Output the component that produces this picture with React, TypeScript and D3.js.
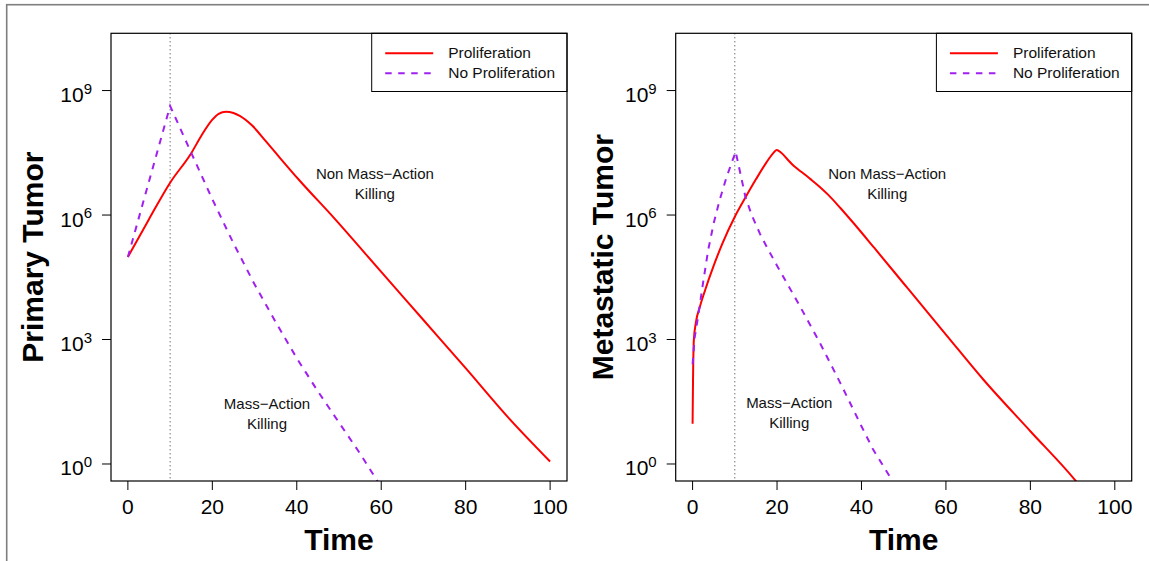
import React from 'react';
import * as d3 from 'd3';

// ---------- data ----------
const timeTicks = [0, 20, 40, 60, 80, 100];
const powerTicks = [0, 3, 6, 9];
const seriesNames = ['Proliferation', 'No Proliferation'];

// Primary tumor, with proliferation (log10 cells)
const primaryProlifTime = [0, 5, 10, 15, 17.5, 20, 21.5, 23.2, 25, 26.5, 29.5, 32.5, 36, 40.5, 48.9, 60, 70, 80, 90, 100];
const primaryProlifLog10 = [4.99, 5.9, 6.78, 7.49, 7.93, 8.3, 8.44, 8.49, 8.46, 8.39, 8.15, 7.8, 7.38, 6.85, 5.92, 4.63, 3.47, 2.31, 1.13, 0.06];

// Primary tumor, no proliferation
const primaryNoProlifTime = [0, 10, 15, 20, 25, 30, 35, 40, 45, 50, 55, 59.1, 60];
const primaryNoProlifLog10 = [4.99, 8.63, 7.5, 6.38, 5.32, 4.33, 3.42, 2.55, 1.75, 1.0, 0.25, -0.41, -0.55];

// Metastatic tumor, with proliferation
const metProlifTime = [0, 0.1, 0.3, 0.8, 1.7, 3, 5, 7, 10, 12.5, 15, 17.5, 19, 19.9, 21, 22.5, 24, 25.9, 28, 30, 32.2, 35, 38, 43.1, 50, 60, 68.9, 80, 90.6, 91];
const metProlifLog10 = [0.97, 2.0, 2.99, 3.42, 3.78, 4.2, 4.78, 5.3, 5.96, 6.42, 6.86, 7.27, 7.48, 7.57, 7.5, 7.34, 7.18, 7.03, 6.86, 6.69, 6.48, 6.17, 5.82, 5.2, 4.35, 3.12, 2.03, 0.79, -0.39, -0.44];

// Metastatic tumor, no proliferation
const metNoProlifTime = [0, 0.5, 1.3, 2.5, 3.7, 5, 6.4, 8, 10.2, 11, 12, 12.5, 14, 16, 18, 20, 25, 30, 35, 40, 42.8, 45, 47.2, 47.5];
const metNoProlifLog10 = [2.4, 3.05, 3.55, 4.38, 5.16, 5.8, 6.36, 6.9, 7.53, 7.15, 6.68, 6.44, 6.0, 5.54, 5.15, 4.78, 3.88, 2.95, 1.95, 0.91, 0.34, -0.02, -0.39, -0.44];

const treatmentTime = 10;

// ---------- layout ----------
const W = 1149;
const H = 561;
const FONT = "'Liberation Sans', Arial, Helvetica, sans-serif";
const RED = '#FF0000';
const PURPLE = '#A020F0';

type Ann = { lines: string[]; t: number; logy: number };
type PanelProps = {
  id: string;
  left: number;
  right: number;
  yLabel: string;
  yLabelX: number;
  prolif: { t: number[]; v: number[] };
  noProlif: { t: number[]; v: number[] };
  annotations: Ann[];
};

const top = 33.3;
const bottom = 481;

function Panel(p: PanelProps) {
  const x = d3.scaleLinear().domain([-4, 104]).range([p.left, p.right]);
  const y = d3.scaleLog().domain([Math.pow(10, -0.41), Math.pow(10, 10.38)]).range([bottom, top]);

  const toPts = (s: { t: number[]; v: number[] }) => s.t.map((t, i) => [t, Math.pow(10, s.v[i])] as [number, number]);
  const smooth = d3.line<[number, number]>().x(d => x(d[0])).y(d => y(d[1])).curve(d3.curveMonotoneX);
  const straight = d3.line<[number, number]>().x(d => x(d[0])).y(d => y(d[1])).curve(d3.curveLinear);

  const legLeft = p.left + 260.7;
  const legLines = [53.3, 73.3];

  return (
    <g>
      <defs>
        <clipPath id={`clip-${p.id}`}>
          <rect x={p.left} y={top} width={p.right - p.left} height={bottom - top} />
        </clipPath>
      </defs>
      <line x1={x(treatmentTime)} x2={x(treatmentTime)} y1={top} y2={bottom} stroke="#333" strokeWidth={1} strokeDasharray="1,3" />
      <g clipPath={`url(#clip-${p.id})`}>
        <path d={smooth(toPts(p.prolif)) || ''} fill="none" stroke={RED} strokeWidth={2} />
        <path d={straight(toPts(p.noProlif)) || ''} fill="none" stroke={PURPLE} strokeWidth={2} strokeDasharray="6.5,6.5" />
      </g>
      {p.annotations.map((a, i) => (
        <g key={i}>
          {a.lines.map((l, j) => (
            <text key={j} x={x(a.t)} y={y(Math.pow(10, a.logy)) + j * 20} textAnchor="middle" fontSize={15} fontFamily={FONT} fill="#111">{l}</text>
          ))}
        </g>
      ))}
      {/* legend */}
      <rect x={legLeft} y={top} width={p.right - legLeft} height={91.5 - top} fill="white" stroke="#000" strokeWidth={1} />
      <line x1={legLeft + 13.5} x2={legLeft + 61.5} y1={legLines[0]} y2={legLines[0]} stroke={RED} strokeWidth={2} />
      <line x1={legLeft + 13.5} x2={legLeft + 61.5} y1={legLines[1]} y2={legLines[1]} stroke={PURPLE} strokeWidth={2} strokeDasharray="6.5,6.5" />
      {seriesNames.map((n, i) => (
        <text key={n} x={legLeft + 76.5} y={legLines[i] + 5} fontSize={15.5} fontFamily={FONT} fill="#111">{n}</text>
      ))}
      {/* box */}
      <rect x={p.left} y={top} width={p.right - p.left} height={bottom - top} fill="none" stroke="#000" strokeWidth={1.2} />
      {/* x axis */}
      {timeTicks.map(t => (
        <g key={t}>
          <line x1={x(t)} x2={x(t)} y1={bottom} y2={bottom + 9} stroke="#000" strokeWidth={1} />
          <text x={x(t)} y={514} textAnchor="middle" fontSize={21} fontFamily={FONT} fill="#000">{t}</text>
        </g>
      ))}
      {/* y axis */}
      {powerTicks.map(e => {
        const yy = y(Math.pow(10, e));
        return (
          <g key={e}>
            <line x1={p.left - 9} x2={p.left} y1={yy} y2={yy} stroke="#000" strokeWidth={1} />
            <text x={p.left - 19} y={yy + 11.5} textAnchor="end" fontSize={21} fontFamily={FONT} fill="#000">
              10<tspan dy={-8.5} fontSize={15}>{e}</tspan>
            </text>
          </g>
        );
      })}
      <text x={(p.left + p.right) / 2} y={550} textAnchor="middle" fontSize={30} fontWeight="bold" fontFamily={FONT} fill="#000">Time</text>
      <text transform={`translate(${p.yLabelX},${(top + bottom) / 2}) rotate(-90)`} textAnchor="middle" fontSize={30} fontWeight="bold" fontFamily={FONT} fill="#000">{p.yLabel}</text>
    </g>
  );
}

export default function App() {
  return (
    <svg width={W} height={H} viewBox={`0 0 ${W} ${H}`} style={{ position: 'absolute', left: 0, top: 0, background: 'white' }}>
      <rect x={0} y={0} width={W} height={H} fill="white" />
      <rect x={6.7} y={4.7} width={W + 50} height={H + 50} fill="none" stroke="#7f7f7f" strokeWidth={1.6} />
      <Panel
        id="primary"
        left={111}
        right={567}
        yLabel="Primary Tumor"
        yLabelX={43}
        prolif={{ t: primaryProlifTime, v: primaryProlifLog10 }}
        noProlif={{ t: primaryNoProlifTime, v: primaryNoProlifLog10 }}
        annotations={[
          { lines: ['Non Mass\u2212Action', 'Killing'], t: 58.5, logy: 6.86 },
          { lines: ['Mass\u2212Action', 'Killing'], t: 32.95, logy: 1.33 },
        ]}
      />
      <Panel
        id="met"
        left={675.7}
        right={1131.7}
        yLabel="Metastatic Tumor"
        yLabelX={613}
        prolif={{ t: metProlifTime, v: metProlifLog10 }}
        noProlif={{ t: metNoProlifTime, v: metNoProlifLog10 }}
        annotations={[
          { lines: ['Non Mass\u2212Action', 'Killing'], t: 46.1, logy: 6.86 },
          { lines: ['Mass\u2212Action', 'Killing'], t: 22.9, logy: 1.34 },
        ]}
      />
    </svg>
  );
}
